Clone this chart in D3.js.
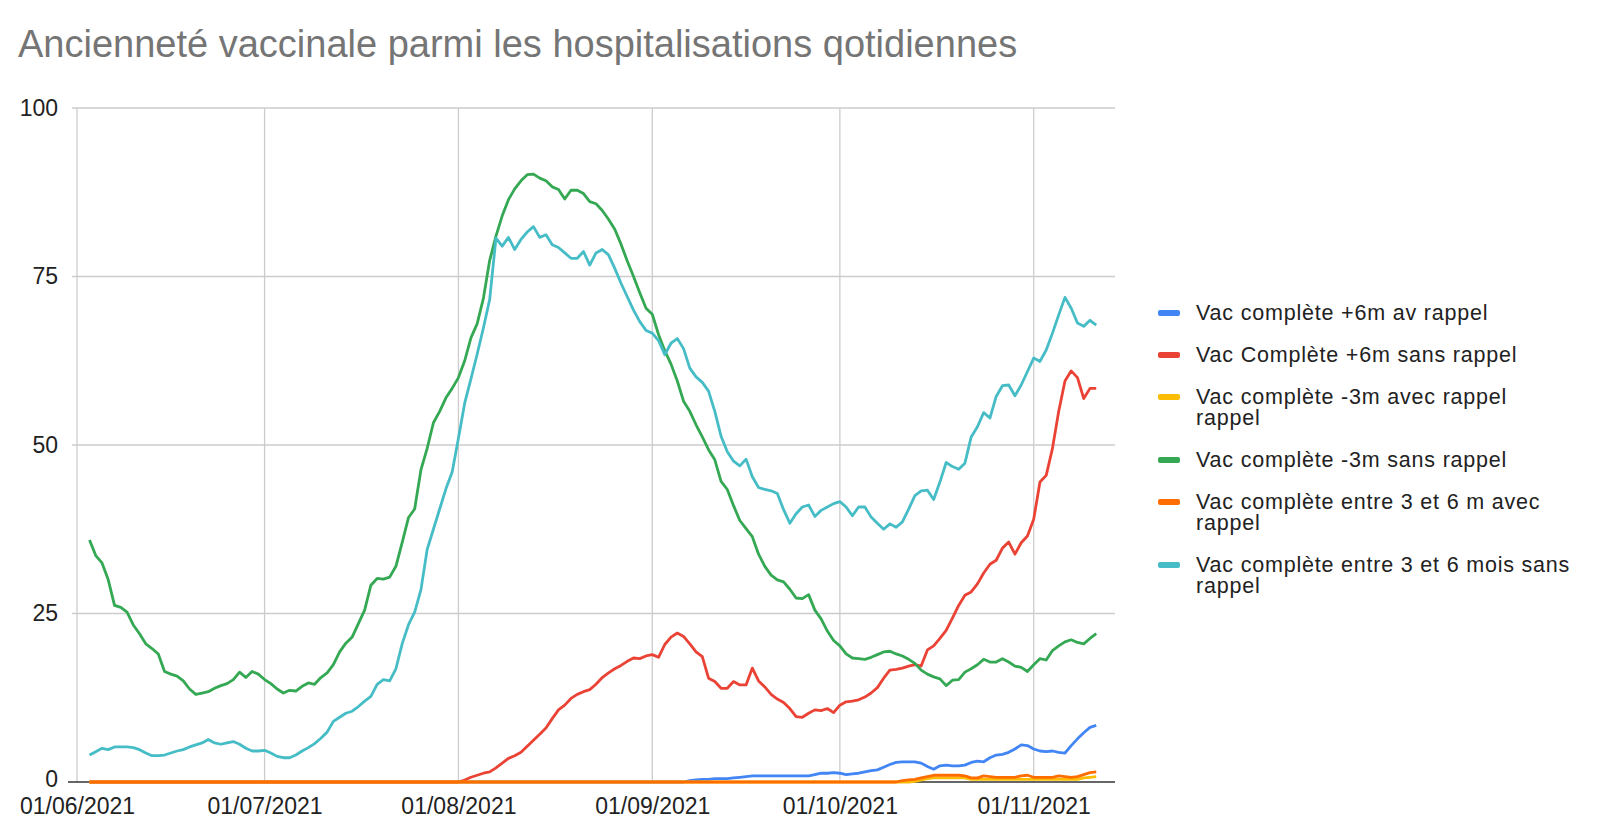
<!DOCTYPE html>
<html>
<head>
<meta charset="utf-8">
<script src="https://cdn.jsdelivr.net/npm/d3@7"></script>
<style>
    html, body { margin: 0; padding: 0; background: #fff; }
    svg { display: block; font-family: "Liberation Sans", Arial, sans-serif; }
</style>
</head>
<body>
<svg id="chart" width="1600" height="835"></svg>
<script>
    'use strict';

    var TITLE = 'Ancienneté vaccinale parmi les hospitalisations qotidiennes';

    // first day with data, one value per day afterwards
    var FIRST_DAY = '2021-06-03';
    var X_START = '2021-06-01';
    var X_END = '2021-11-14';
    var Y_TICKS = [0, 25, 50, 75, 100];

    var seriesNames = [
        ['Vac complète +6m av rappel'],
        ['Vac Complète +6m sans rappel'],
        ['Vac complète -3m avec rappel', 'rappel'],
        ['Vac complète -3m sans rappel'],
        ['Vac complète entre 3 et 6 m avec', 'rappel'],
        ['Vac complète entre 3 et 6 mois sans', 'rappel']
    ];
    var seriesColors = ['#4285f4', '#ea4335', '#fbbc04', '#34a853', '#ff6d01', '#46bdc6'];

    var plus6mBooster = [
        0, 0, 0, 0, 0, 0, 0, 0, 0, 0,
        0, 0, 0, 0, 0, 0, 0, 0, 0, 0,
        0, 0, 0, 0, 0, 0, 0, 0, 0, 0,
        0, 0, 0, 0, 0, 0, 0, 0, 0, 0,
        0, 0, 0, 0, 0, 0, 0, 0, 0, 0,
        0, 0, 0, 0, 0, 0, 0, 0, 0, 0,
        0, 0, 0, 0, 0, 0, 0, 0, 0, 0,
        0, 0, 0, 0, 0, 0, 0, 0, 0, 0,
        0, 0, 0, 0, 0, 0, 0, 0, 0, 0,
        0, 0, 0, 0, 0, 0,
        0.2, 0.3, 0.4, 0.4, 0.5, 0.5, 0.5, 0.6, 0.7, 0.8,
        0.9, 0.9, 0.9, 0.9, 0.9, 0.9, 0.9, 0.9, 0.9, 0.9,
        1.1, 1.3, 1.3, 1.4, 1.3, 1.1, 1.2, 1.3, 1.5, 1.7,
        1.8, 2.2, 2.6, 2.9, 3.0, 3.0, 3.0, 2.8, 2.3, 1.9,
        2.4, 2.5, 2.4, 2.4, 2.5, 2.9, 3.1, 3.0, 3.6, 4.0,
        4.1, 4.4, 4.9, 5.5, 5.4, 4.9, 4.6, 4.5, 4.6, 4.4,
        4.3, 5.4, 6.4, 7.3, 8.1, 8.4
    ];

    var plus6mNoBooster = [
        0, 0, 0, 0, 0, 0, 0, 0, 0, 0,
        0, 0, 0, 0, 0, 0, 0, 0, 0, 0,
        0, 0, 0, 0, 0, 0, 0, 0, 0, 0,
        0, 0, 0, 0, 0, 0, 0, 0, 0, 0,
        0, 0, 0, 0, 0, 0, 0, 0, 0, 0,
        0, 0, 0, 0, 0, 0, 0, 0, 0, 0,
        0.3, 0.7, 1.0, 1.3, 1.5, 2.1, 2.8, 3.5, 3.9, 4.4,
        5.3, 6.2, 7.1, 8.0, 9.4, 10.7, 11.4, 12.4, 13.0, 13.4,
        13.7, 14.5, 15.5, 16.2, 16.8, 17.3, 17.9, 18.4, 18.3, 18.7,
        18.9, 18.5, 20.4, 21.5, 22.1, 21.6, 20.5, 19.3, 18.6, 15.4,
        14.9, 13.9, 13.9, 14.9, 14.4, 14.4, 16.9, 15.0, 14.1, 13.0,
        12.3, 11.8, 10.9, 9.7, 9.6, 10.2, 10.7, 10.6, 10.9, 10.3,
        11.4, 11.9, 12.0, 12.2, 12.6, 13.2, 14.0, 15.4, 16.6, 16.7,
        16.9, 17.2, 17.4, 17.2, 19.6, 20.2, 21.3, 22.5, 24.3, 26.2,
        27.7, 28.2, 29.4, 31.0, 32.3, 32.9, 34.7, 35.6, 33.8, 35.5,
        36.5, 39.0, 44.5, 45.5, 49.5, 55.0, 59.5, 61.0, 60.0, 56.9,
        58.4, 58.4
    ];

    var minus3mBooster = [
        0, 0, 0, 0, 0, 0, 0, 0, 0, 0,
        0, 0, 0, 0, 0, 0, 0, 0, 0, 0,
        0, 0, 0, 0, 0, 0, 0, 0, 0, 0,
        0, 0, 0, 0, 0, 0, 0, 0, 0, 0,
        0, 0, 0, 0, 0, 0, 0, 0, 0, 0,
        0, 0, 0, 0, 0, 0, 0, 0, 0, 0,
        0, 0, 0, 0, 0, 0, 0, 0, 0, 0,
        0, 0, 0, 0, 0, 0, 0, 0, 0, 0,
        0, 0, 0, 0, 0, 0, 0, 0, 0, 0,
        0, 0, 0, 0, 0, 0, 0, 0, 0, 0,
        0, 0, 0, 0, 0, 0, 0, 0, 0, 0,
        0, 0, 0, 0, 0, 0, 0, 0, 0, 0,
        0, 0, 0, 0, 0, 0, 0, 0, 0, 0,
        0, 0,
        0.1, 0.3, 0.5, 0.6, 0.6, 0.6, 0.6, 0.6, 0.6, 0.4,
        0.4, 0.4, 0.4, 0.4, 0.4, 0.4, 0.4, 0.4, 0.4, 0.4,
        0.4, 0.4, 0.4, 0.4, 0.4, 0.4, 0.4, 0.6, 0.7, 0.8
    ];

    var minus3mNoBooster = [
        35.9, 33.6, 32.5, 30.0, 26.2, 25.9, 25.2, 23.3, 22.0, 20.5,
        19.8, 19.0, 16.4, 16.0, 15.7, 15.0, 13.8, 13.0, 13.2, 13.4,
        13.9, 14.3, 14.6, 15.2, 16.3, 15.5, 16.4, 16.0, 15.2, 14.6,
        13.8, 13.2, 13.6, 13.5, 14.2, 14.7, 14.5, 15.5, 16.2, 17.4,
        19.3, 20.6, 21.5, 23.5, 25.5, 29.2, 30.2, 30.1, 30.4, 32.0,
        35.5, 39.2, 40.5, 46.3, 49.5, 53.3, 55.0, 57.0, 58.4, 60.0,
        62.5, 65.9, 68.0, 71.8, 77.4, 81.0, 84.0, 86.4, 88.0, 89.2,
        90.1, 90.2, 89.6, 89.2, 88.3, 87.9, 86.5, 87.8, 87.8, 87.3,
        86.1, 85.8, 84.8, 83.5, 82.0, 79.8, 77.3, 75.0, 72.6, 70.3,
        69.4, 66.4, 64.0, 62.0, 59.5, 56.5, 55.0, 53.0, 51.2, 49.3,
        47.8, 44.6, 43.4, 41.0, 38.8, 37.6, 36.4, 33.8, 32.0, 30.7,
        30.0, 29.7, 28.6, 27.3, 27.2, 27.8, 25.5, 24.2, 22.4, 21.0,
        20.2, 19.0, 18.4, 18.3, 18.2, 18.5, 18.9, 19.3, 19.4, 19.0,
        18.7, 18.2, 17.6, 16.6, 16.0, 15.6, 15.3, 14.3, 15.1, 15.2,
        16.3, 16.8, 17.4, 18.2, 17.8, 17.8, 18.3, 17.8, 17.2, 17.0,
        16.4, 17.4, 18.3, 18.1, 19.5, 20.2, 20.8, 21.1, 20.7, 20.5,
        21.3, 22.0
    ];

    var mid3to6mBooster = [
        0, 0, 0, 0, 0, 0, 0, 0, 0, 0,
        0, 0, 0, 0, 0, 0, 0, 0, 0, 0,
        0, 0, 0, 0, 0, 0, 0, 0, 0, 0,
        0, 0, 0, 0, 0, 0, 0, 0, 0, 0,
        0, 0, 0, 0, 0, 0, 0, 0, 0, 0,
        0, 0, 0, 0, 0, 0, 0, 0, 0, 0,
        0, 0, 0, 0, 0, 0, 0, 0, 0, 0,
        0, 0, 0, 0, 0, 0, 0, 0, 0, 0,
        0, 0, 0, 0, 0, 0, 0, 0, 0, 0,
        0, 0, 0, 0, 0, 0, 0, 0, 0, 0,
        0, 0, 0, 0, 0, 0, 0, 0, 0, 0,
        0, 0, 0, 0, 0, 0, 0, 0, 0, 0,
        0, 0, 0, 0, 0, 0, 0, 0, 0, 0,
        0.2, 0.3, 0.4, 0.6, 0.8, 1.0, 1.0, 1.0, 1.0, 1.0,
        0.9, 0.6, 0.6, 0.9, 0.8, 0.7, 0.7, 0.7, 0.7, 0.9,
        1.0, 0.7, 0.7, 0.7, 0.7, 0.9, 0.8, 0.7, 0.8, 1.1,
        1.4, 1.5
    ];

    var mid3to6mNoBooster = [
        4.0, 4.5, 5.0, 4.8, 5.2, 5.2, 5.2, 5.1, 4.8, 4.3,
        3.9, 3.9, 4.0, 4.3, 4.6, 4.8, 5.2, 5.5, 5.8, 6.3,
        5.8, 5.6, 5.8, 6.0, 5.6, 5.0, 4.6, 4.6, 4.7, 4.3,
        3.8, 3.6, 3.6, 4.0, 4.6, 5.1, 5.7, 6.5, 7.4, 9.0,
        9.6, 10.2, 10.5, 11.2, 12.0, 12.7, 14.5, 15.2, 15.0, 16.8,
        20.5, 23.3, 25.2, 28.5, 34.5, 37.5, 40.5, 43.5, 46.0, 51.0,
        56.2, 59.8, 63.5, 67.4, 71.6, 80.7, 79.5, 80.8, 79.0, 80.5,
        81.6, 82.4, 80.8, 81.2, 79.7, 79.3, 78.5, 77.7, 77.7, 78.7,
        76.7, 78.5, 79.0, 78.2, 76.2, 74.0, 72.0, 70.0, 68.3, 67.0,
        66.6, 65.5, 63.4, 65.1, 65.8, 64.3, 61.4, 60.1, 59.3, 58.0,
        55.0, 51.3, 49.0, 47.6, 46.9, 47.9, 45.3, 43.7, 43.4, 43.2,
        42.8, 40.4, 38.4, 39.8, 40.8, 41.1, 39.4, 40.3, 40.8, 41.3,
        41.6, 40.8, 39.5, 40.8, 40.8, 39.3, 38.4, 37.5, 38.3, 37.8,
        38.6, 40.5, 42.5, 43.2, 43.3, 41.9, 44.5, 47.4, 46.8, 46.4,
        47.3, 51.2, 52.7, 54.8, 54.0, 57.2, 58.8, 58.9, 57.3, 58.9,
        60.9, 62.9, 62.4, 64.1, 66.6, 69.3, 71.9, 70.3, 68.1, 67.6,
        68.5, 67.8
    ];

    var seriesValues = [
        plus6mBooster, plus6mNoBooster, minus3mBooster,
        minus3mNoBooster, mid3to6mBooster, mid3to6mNoBooster
    ];

    var CHART = { LEFT: 77, RIGHT: 1115, TOP: 108, BOTTOM: 782 };
    var GRID_COLOR = '#cccccc';
    var TEXT_COLOR = '#222222';
    var LINE_WIDTH = 2.8;
    var TICK_FONT = 23;

    var LEGEND = { X: 1158, TOP: 313, LINE: 21, FONT: 21.5, SPACING: 0.8 };

    var parseDay = d3.timeParse('%Y-%m-%d');
    var svg = d3.select('#chart');

    var xScale = d3.scaleTime()
        .domain([parseDay(X_START), parseDay(X_END)])
        .range([CHART.LEFT, CHART.RIGHT]);
    var yScale = d3.scaleLinear()
        .domain([0, 100])
        .range([CHART.BOTTOM, CHART.TOP]);

    function dayOf(index) {
        return d3.timeDay.offset(parseDay(FIRST_DAY), index);
    }

    function renderTitle() {
        svg.append('text')
            .attr('x', 18)
            .attr('y', 57)
            .attr('font-size', 38)
            .attr('fill', '#757575')
            .text(TITLE);
    }

    function renderGrid() {
        var grid = svg.append('g');
        var monthTicks = d3.timeMonth.range(parseDay(X_START), parseDay(X_END));

        grid.selectAll('line.h').data(Y_TICKS.slice(1)).enter()
            .append('line')
            .attr('class', 'h')
            .attr('x1', CHART.LEFT - 5)
            .attr('x2', CHART.RIGHT)
            .attr('y1', yScale)
            .attr('y2', yScale)
            .attr('stroke', GRID_COLOR)
            .attr('stroke-width', 1.3);

        grid.selectAll('line.v').data(monthTicks).enter()
            .append('line')
            .attr('class', 'v')
            .attr('x1', xScale)
            .attr('x2', xScale)
            .attr('y1', CHART.TOP)
            .attr('y2', CHART.BOTTOM)
            .attr('stroke', GRID_COLOR)
            .attr('stroke-width', 1.3);
    }

    function renderAxes() {
        var yAxis = d3.axisLeft(yScale)
            .tickValues(Y_TICKS)
            .tickSize(0)
            .tickPadding(19);
        var xAxis = d3.axisBottom(xScale)
            .ticks(d3.timeMonth.every(1))
            .tickFormat(d3.timeFormat('%d/%m/%Y'))
            .tickSize(0)
            .tickPadding(16);

        var yGroup = svg.append('g')
            .attr('transform', 'translate(' + CHART.LEFT + ',0)')
            .call(yAxis);
        yGroup.select('.domain').remove();
        yGroup.selectAll('text')
            .attr('font-size', TICK_FONT)
            .attr('font-family', null)
            .attr('fill', TEXT_COLOR)
            .attr('y', function (d) {
                // lift the "0" a little so it clears the first date label
                return d === 0 ? -3 : 0;
            });

        var xGroup = svg.append('g')
            .attr('transform', 'translate(0,' + CHART.BOTTOM + ')')
            .call(xAxis);
        xGroup.select('.domain').remove();
        xGroup.selectAll('text')
            .attr('font-size', TICK_FONT)
            .attr('font-family', null)
            .attr('fill', TEXT_COLOR);

        // baseline
        svg.append('line')
            .attr('x1', CHART.LEFT - 9)
            .attr('x2', CHART.RIGHT)
            .attr('y1', yScale(0))
            .attr('y2', yScale(0))
            .attr('stroke', '#333333')
            .attr('stroke-width', 1.5);
    }

    function renderLines() {
        var linesGroup = svg.append('g');
        var line = d3.line()
            .x(function (value, index) {
                return xScale(dayOf(index));
            })
            .y(function (value) {
                return yScale(value);
            });

        seriesValues.forEach(function (values, i) {
            linesGroup.append('path')
                .attr('d', line(values))
                .attr('fill', 'none')
                .attr('stroke', seriesColors[i])
                .attr('stroke-width', LINE_WIDTH)
                .attr('stroke-linejoin', 'round');
        });
    }

    function renderLegend() {
        var legend = svg.append('g').attr('transform', 'translate(' + LEGEND.X + ',0)');
        var y = LEGEND.TOP;

        seriesNames.forEach(function (lines, i) {
            legend.append('rect')
                .attr('x', 0)
                .attr('y', y - 3)
                .attr('width', 22)
                .attr('height', 6)
                .attr('rx', 2)
                .attr('fill', seriesColors[i]);

            var text = legend.append('text')
                .attr('x', 38)
                .attr('y', y)
                .attr('font-size', LEGEND.FONT)
                .attr('letter-spacing', LEGEND.SPACING)
                .attr('fill', TEXT_COLOR)
                .attr('dominant-baseline', 'central');
            lines.forEach(function (str, k) {
                text.append('tspan')
                    .attr('x', 38)
                    .attr('dy', k === 0 ? 0 : LEGEND.LINE)
                    .text(str);
            });
            y += lines.length * LEGEND.LINE + LEGEND.LINE;
        });
    }

    renderTitle();
    renderGrid();
    renderAxes();
    renderLines();
    renderLegend();
</script>
</body>
</html>
